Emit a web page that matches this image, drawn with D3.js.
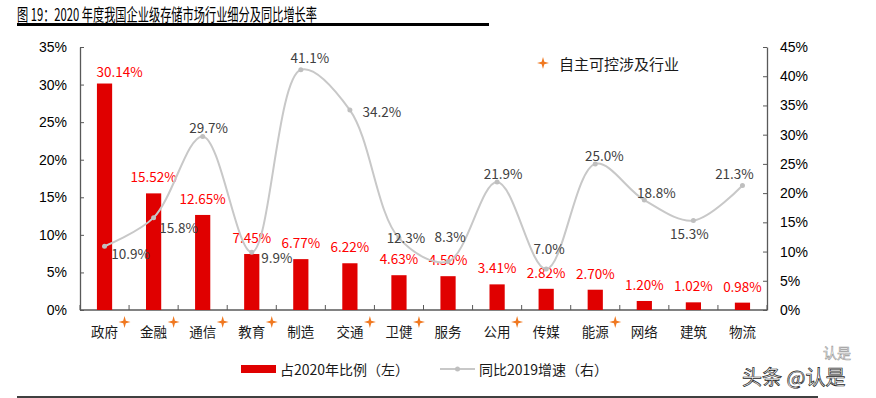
<!DOCTYPE html>
<html>
<head>
<meta charset="UTF-8">
<style>
  body { margin: 0; background: #fff; }
  text { font-family: "Noto Sans CJK SC", "Noto Sans", sans-serif; }
  .tick text { font-family: "Liberation Sans", Arial, sans-serif; font-size: 14px; fill: #000; }
</style>
</head>
<body>
<svg width="876" height="398"></svg>
<script src="https://d3js.org/d3.v7.min.js"></script>
<script>

// 数据
let categories = ["政府","金融","通信","教育","制造","交通","卫健","服务","公用","传媒","能源","网络","建筑","物流"];
let share2020 = [30.14, 15.52, 12.65, 7.45, 6.77, 6.22, 4.63, 4.50, 3.41, 2.82, 2.70, 1.20, 1.02, 0.98];
let growth2019 = [10.9, 15.8, 29.7, 9.9, 41.1, 34.2, 12.3, 8.3, 21.9, 7.0, 25.0, 18.8, 15.3, 21.3];
let selfControl = [1,1,1,1,0,1,1,0,1,0,1,0,0,0];
let leftTicks = [0,5,10,15,20,25,30,35];
let rightTicks = [0,5,10,15,20,25,30,35,40,45];

// label offsets (px) for the growth labels
let growthLabelOffset = [[26,7],[25,9],[6,-9],[25,5],[9,-13],[32,1],[7,-1],[2,-25],[6,-9],[3,-21],[9,-9],[12,-8],[-4,12],[-8,-13]];

let svg = d3.select("svg");

let x = d3.scaleBand().domain(categories).range([80, 767]).paddingInner(0.69).paddingOuter(0.345);
let yL = d3.scaleLinear().domain([0, 35]).range([310, 47]);
let yR = d3.scaleLinear().domain([0, 45]).range([310, 47]);
let cx = d => x(d) + x.bandwidth() / 2;

// title
svg.append("text")
    .attr("x", 17).attr("y", 13).attr("dominant-baseline", "central")
    .attr("textLength", 300).attr("lengthAdjust", "spacingAndGlyphs")
    .style("font-size", "17px").style("fill", "#000")
    .text("图 19：2020 年度我国企业级存储市场行业细分及同比增长率");
svg.append("line").attr("x1", 17).attr("x2", 489).attr("y1", 24.5).attr("y2", 24.5)
    .attr("stroke", "#000").attr("stroke-width", 3);
svg.append("line").attr("x1", 17).attr("x2", 818).attr("y1", 397).attr("y2", 397)
    .attr("stroke", "#000").attr("stroke-width", 1.5);

// axes
let gL = svg.append("g").attr("transform", "translate(80,0)")
    .call(d3.axisLeft(yL).tickValues(leftTicks).tickFormat(d => d + "%").tickSize(-4).tickSizeOuter(0).tickPadding(13));
let gR = svg.append("g").attr("transform", "translate(767,0)")
    .call(d3.axisRight(yR).tickValues(rightTicks).tickFormat(d => d + "%").tickSize(-4).tickSizeOuter(0).tickPadding(13));
[gL, gR].forEach(g => {
    g.select(".domain").attr("stroke", "#595959").attr("stroke-width", 1.3);
    g.selectAll(".tick line").attr("stroke", "#595959");
});

// x axis
svg.append("line").attr("x1", 80).attr("x2", 767).attr("y1", yL(0)).attr("y2", yL(0))
    .attr("stroke", "#595959").attr("stroke-width", 1.3);
svg.append("g").selectAll("line")
    .data(d3.range(categories.length + 1))
    .enter().append("line")
    .attr("x1", i => x.range()[0] + i * x.step())
    .attr("x2", i => x.range()[0] + i * x.step())
    .attr("y1", yL(0)).attr("y2", yL(0) - 5)
    .attr("stroke", "#595959");

// bars
svg.append("g").selectAll("rect")
    .data(share2020)
    .enter().append("rect")
    .attr("x", (d, i) => x(categories[i]))
    .attr("width", x.bandwidth())
    .attr("y", d => yL(d))
    .attr("height", d => yL(0) - yL(d))
    .attr("fill", "#E00000");

svg.append("g").selectAll("text")
    .data(share2020)
    .enter().append("text")
    .attr("x", (d, i) => cx(categories[i]) + (i === 0 ? 15 : 0))
    .attr("y", (d, i) => yL(d) - (i === 0 ? 13 : 17))
    .attr("text-anchor", "middle").attr("dominant-baseline", "central")
    .style("font-size", "13.5px").style("fill", "#FF0000")
    .text(d => d.toFixed(2) + "%");

// growth line
let pts = growth2019.map((d, i) => [cx(categories[i]), yR(d)]);
svg.append("path")
    .attr("d", d3.line().curve(d3.curveCatmullRom.alpha(0.5))(pts))
    .attr("fill", "none").attr("stroke", "#C8C8C8").attr("stroke-width", 2);
svg.append("g").selectAll("circle")
    .data(pts)
    .enter().append("circle")
    .attr("cx", d => d[0]).attr("cy", d => d[1]).attr("r", 2.5)
    .attr("fill", "#BFBFBF");
svg.append("g").selectAll("text")
    .data(growth2019)
    .enter().append("text")
    .attr("x", (d, i) => pts[i][0] + growthLabelOffset[i][0])
    .attr("y", (d, i) => pts[i][1] + growthLabelOffset[i][1])
    .attr("text-anchor", "middle").attr("dominant-baseline", "central")
    .style("font-size", "13.5px").style("fill", "#404040")
    .text(d => d.toFixed(1) + "%");

// category labels + stars
function star(g, sx, sy, r) {
    let w = r * 0.22;
    g.append("path")
        .attr("d", `M${sx},${sy - r} L${sx + w},${sy - w} L${sx + r},${sy} L${sx + w},${sy + w} L${sx},${sy + r} L${sx - w},${sy + w} L${sx - r},${sy} L${sx - w},${sy - w}Z`)
        .attr("fill", "#F07820");
}
let cat = svg.append("g");
categories.forEach((c, i) => {
    cat.append("text")
        .attr("x", cx(c)).attr("y", 331)
        .attr("text-anchor", "middle").attr("dominant-baseline", "central")
        .style("font-size", "13.5px").style("fill", "#1a1a1a")
        .text(c);
    if (selfControl[i]) star(cat, cx(c) + 20, 322, 6);
});

// legends
star(svg, 543, 63, 6);
svg.append("text").attr("x", 559).attr("y", 63).attr("dominant-baseline", "central")
    .style("font-size", "15px").style("fill", "#1a1a1a").text("自主可控涉及行业");

svg.append("rect").attr("x", 241).attr("y", 365).attr("width", 35).attr("height", 8).attr("fill", "#E00000");
svg.append("text").attr("x", 280).attr("y", 369).attr("dominant-baseline", "central")
    .style("font-size", "14px").style("fill", "#1a1a1a").text("占2020年比例（左）");
svg.append("line").attr("x1", 440).attr("x2", 475).attr("y1", 369).attr("y2", 369)
    .attr("stroke", "#C8C8C8").attr("stroke-width", 2);
svg.append("circle").attr("cx", 457.5).attr("cy", 369).attr("r", 2.5).attr("fill", "#BFBFBF");
svg.append("text").attr("x", 479).attr("y", 369).attr("dominant-baseline", "central")
    .style("font-size", "14px").style("fill", "#1a1a1a").text("同比2019增速（右）");

// watermark
svg.append("text").attr("x", 823).attr("y", 352).attr("dominant-baseline", "central")
    .style("font-size", "14px").style("fill", "#fff").style("stroke", "#999").style("stroke-width", 0.6)
    .text("认是");
svg.append("text").attr("x", 742).attr("y", 376).attr("dominant-baseline", "central")
    .style("font-size", "20px").style("fill", "#fff").style("stroke", "#222").style("stroke-width", 0.7)
    .text("头条 @认是");

</script>
</body>
</html>
